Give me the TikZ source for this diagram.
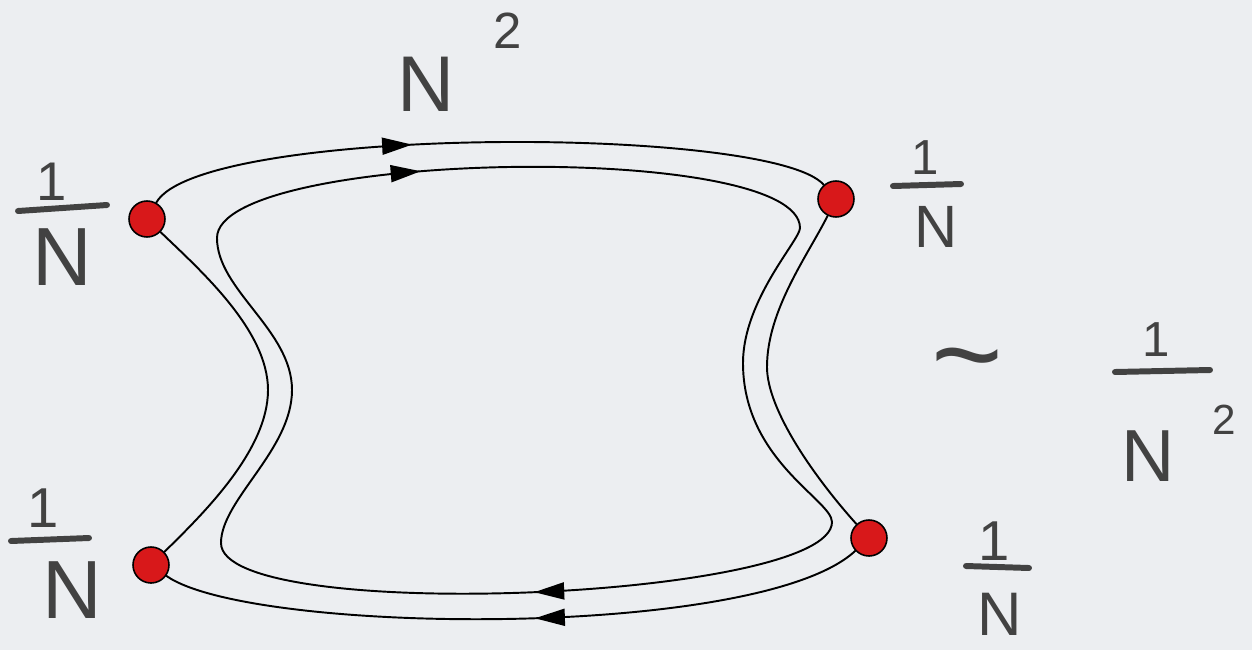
\documentclass[tikz,border=0pt]{standalone}
\usepackage{fontspec}
\setmainfont{Liberation Sans}
\usetikzlibrary{arrows.meta,decorations.markings}
\definecolor{bg}{RGB}{236,238,241}
\definecolor{dotred}{RGB}{216,24,26}
\definecolor{ink}{RGB}{66,66,66}
\begin{document}
\begin{tikzpicture}[x=0.02cm,y=-0.02cm,
  wire/.style={line width=1.1pt, draw=black, line cap=round},
  dot/.style={circle, fill=dotred, draw=black, line width=0.9pt, minimum size=0.72cm, inner sep=0pt},
  hand/.style={text=ink, inner sep=0pt, font=\fontsize{#1}{#1}\selectfont},
  fracbar/.style={draw=ink, line width=3.4pt, line cap=round},
  arrowat/.style={postaction={decorate}, decoration={markings,
     mark=at position #1 with {\arrow{Triangle[length=0.6cm,width=0.34cm]}}}},
]
\fill[bg] (0,0) rectangle (1252,650);
\useasboundingbox (0,0) rectangle (1252,650);

% vertices
\node[dot] (tl) at (147,219) {};
\node[dot] (tr) at (836,199) {};
\node[dot] (bl) at (151,565) {};
\node[dot] (br) at (869,538) {};
\coordinate (lmid) at (268,390);
\coordinate (rmid) at (767,367);

% outer loop
\draw[wire, arrowat=0.39] (tl) .. controls (200,125) and (772,125) .. (tr);
\draw[wire] (tr) .. controls (808,255) and (767,310) .. (rmid)
                 .. controls (767,410) and (815,478) .. (br);
\draw[wire, arrowat=0.47] (br) .. controls (760,640) and (250,635) .. (bl);
\draw[wire] (bl) .. controls (204,513) and (268,450) .. (lmid)
                 .. controls (268,330) and (200,270) .. (tl);

% inner loop
\coordinate (ilt) at (217,238);
\coordinate (irt) at (800,228);
\coordinate (irm) at (743,363);
\coordinate (irb) at (832,522);
\coordinate (ilb) at (221,543);
\coordinate (ilm) at (292,390);
\draw[wire, arrowat=0.36] (ilt) .. controls (217,150) and (800,140) .. (irt);
\draw[wire] (irt) .. controls (800,240) and (743,300) .. (irm)
                  .. controls (743,460) and (832,500) .. (irb);
\draw[wire, arrowat=0.49] (irb) .. controls (832,600) and (221,625) .. (ilb);
\draw[wire] (ilb) .. controls (221,500) and (292,450) .. (ilm)
                  .. controls (292,330) and (217,290) .. (ilt);

% labels
\node[hand=45] (nsq) at (426,84) {N};
\node[hand=29] (nsqexp) at (508,31) {2};

\node[hand=31] (tlone) at (52,182) {1};
\coordinate (tlbara) at (18,211); \coordinate (tlbarb) at (107,205);
\draw[fracbar] (tlbara) -- (tlbarb);
\node[hand=47] (tln) at (62,257) {N};

\node[hand=28] (trone) at (925,158) {1};
\coordinate (trbara) at (893,186); \coordinate (trbarb) at (961,184);
\draw[fracbar] (trbara) -- (trbarb);
\node[hand=34] (trn) at (936,227) {N};

\node[hand=32] (blone) at (43,508) {1};
\coordinate (blbara) at (11,541); \coordinate (blbarb) at (89,538);
\draw[fracbar] (blbara) -- (blbarb);
\node[hand=47] (bln) at (72,590) {N};

\node[hand=32] (brone) at (994,541) {1};
\coordinate (brbara) at (966,566); \coordinate (brbarb) at (1029,568);
\draw[fracbar] (brbara) -- (brbarb);
\node[hand=35] (brn) at (1000,614) {N};

\node[hand=70] (tilde) at (967,372) {\textasciitilde};
\node[hand=28] (rone) at (1156,340) {1};
\coordinate (rbara) at (1115,372); \coordinate (rbarb) at (1210,370);
\draw[fracbar] (rbara) -- (rbarb);
\node[hand=42] (rn) at (1148,456) {N};
\node[hand=24] (rexp) at (1224,420) {2};
\end{tikzpicture}
\end{document}
